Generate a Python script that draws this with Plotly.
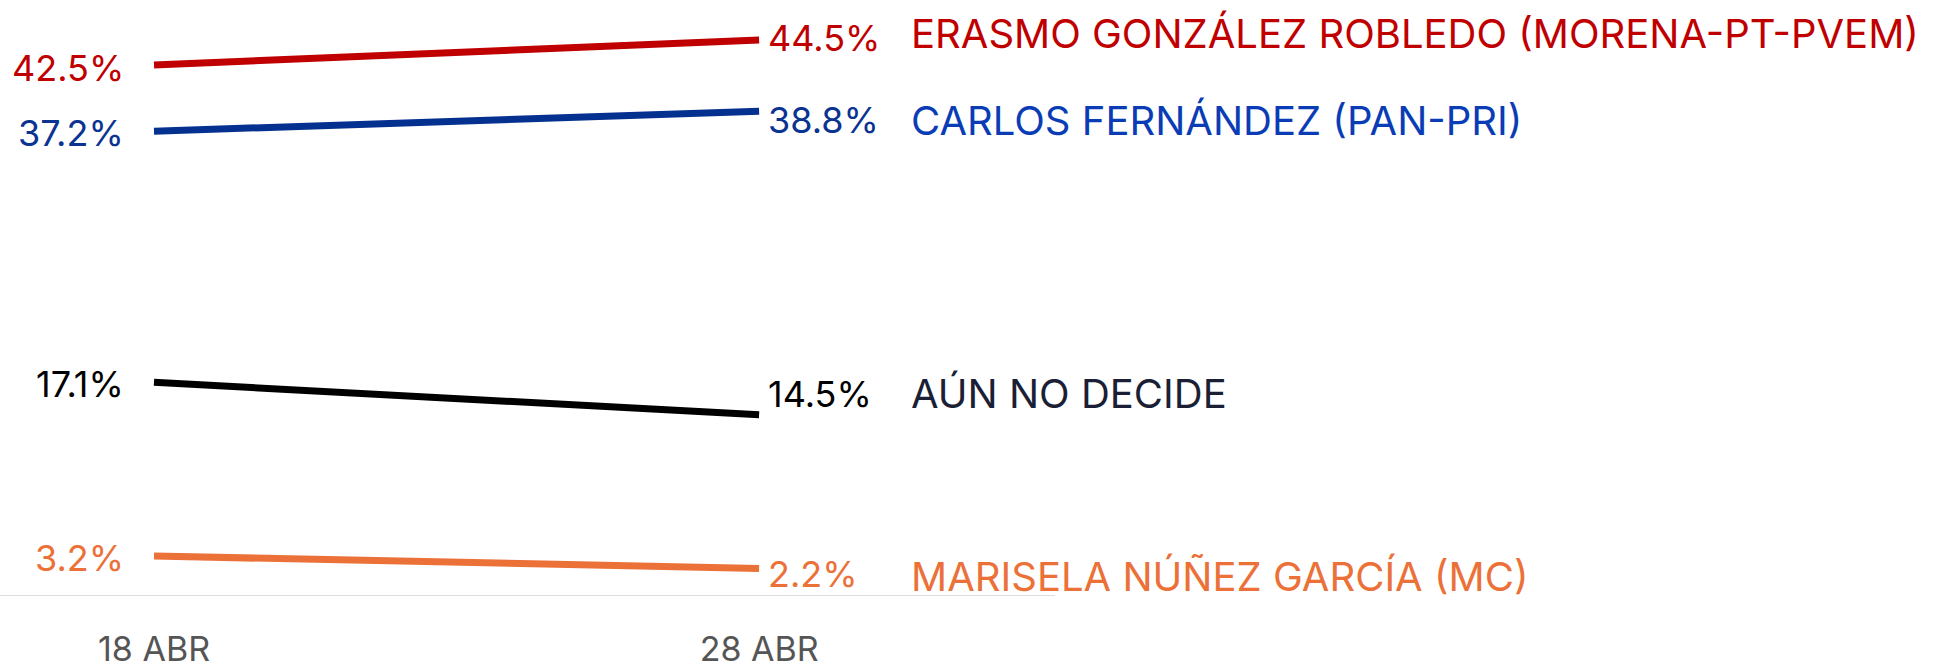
import plotly.graph_objects as go

dates = ["18 ABR", "28 ABR"]
series_names = [
    "ERASMO GONZÁLEZ ROBLEDO (MORENA-PT-PVEM)",
    "CARLOS FERNÁNDEZ (PAN-PRI)",
    "AÚN NO DECIDE",
    "MARISELA NÚÑEZ GARCÍA (MC)",
]
erasmo = [42.5, 44.5]
carlos = [37.2, 38.8]
no_decide = [17.1, 14.5]
marisela = [3.2, 2.2]
values = [erasmo, carlos, no_decide, marisela]

line_colors = ["#C00000", "#04318F", "#000000", "#EB7138"]
text_colors = ["#C00000", "#0A3DB5", "#1B1F36", "#EB7138"]
value_colors = ["#C00000", "#0A3392", "#000000", "#EB7138"]
left_yshift = [-3, -2, -2, -2]
right_yshift = [2, -9, 21, -5]
name_yshift = [6, -9, 21, -8]

FONT = "Inter"
FS_NUM = 36
FS_NAME = 40
FS_TICK = 34

fig = go.Figure()
xs = [0, 1]
for vals, col in zip(values, line_colors):
    fig.add_trace(go.Scatter(x=xs, y=vals, mode="lines",
                             line=dict(color=col, width=7),
                             showlegend=False, hoverinfo="skip"))

ann = []
for name, vals, tcol, vcol, ls, rs, ns in zip(series_names, values, text_colors, value_colors,
                                               left_yshift, right_yshift, name_yshift):
    ann.append(dict(x=0, y=vals[0], xref="x", yref="y", text=f"{vals[0]:.1f}%",
                    showarrow=False, xanchor="right", yanchor="middle",
                    xshift=-28, yshift=ls, font=dict(family=FONT, size=FS_NUM, color=vcol)))
    ann.append(dict(x=1, y=vals[1], xref="x", yref="y", text=f"{vals[1]:.1f}%",
                    showarrow=False, xanchor="left", yanchor="middle",
                    xshift=7, yshift=rs, font=dict(family=FONT, size=FS_NUM, color=vcol)))
    ann.append(dict(x=1, y=vals[1], xref="x", yref="y", text=name,
                    showarrow=False, xanchor="left", yanchor="middle",
                    xshift=150, yshift=ns, font=dict(family=FONT, size=FS_NAME, color=tcol)))

fig.update_layout(
    width=1958, height=671,
    margin=dict(l=0, r=903, t=0, b=75, autoexpand=False),
    paper_bgcolor="white", plot_bgcolor="white",
    annotations=ann,
    xaxis=dict(range=[-0.2545, 1.489], tickvals=xs, ticktext=dates,
               showgrid=False, zeroline=False, showline=False, ticks="",
               ticklabelstandoff=30, automargin=False,
               tickfont=dict(family=FONT, size=FS_TICK, color="#555555")),
    yaxis=dict(range=[0, 47.7], showgrid=False, zeroline=False, showline=False,
               showticklabels=False, automargin=False),
    shapes=[dict(type="line", xref="paper", yref="y", x0=0, x1=1, y0=0, y1=0,
                 line=dict(color="#DDDDDD", width=2), layer="below")],
)
fig.write_html("out.html", config={"displayModeBar": False},
               post_script="document.body.style.margin='0px';")
